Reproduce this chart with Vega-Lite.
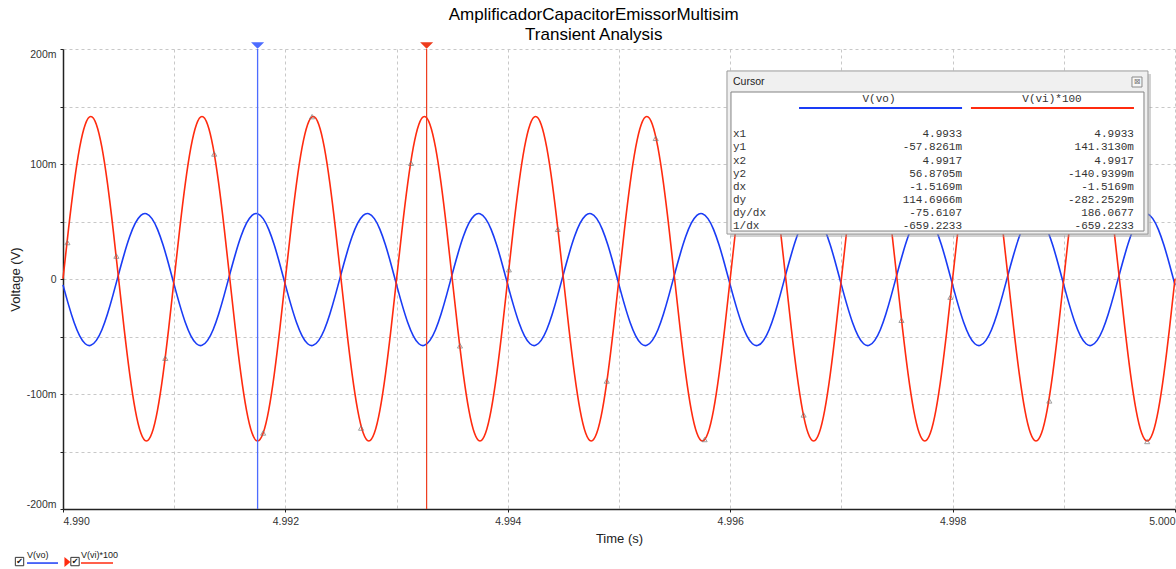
{
"$schema": "https://vega.github.io/schema/vega-lite/v6.json",
"width": 1112, "height": 460,
"autosize": {"type": "none"},
"padding": {"left": 63, "top": 49, "right": 1, "bottom": 60},
"background": "white",
"title": {"text": ["AmplificadorCapacitorEmissorMultisim", "Transient Analysis"], "font": "Liberation Sans", "fontSize": 17, "fontWeight": "normal", "color": "#000", "lineHeight": 20, "anchor": "middle", "frame": "bounds", "offset": -2},
"config": {"view": {"stroke": null},
 "axis": {"labelFont": "Liberation Sans", "titleFont": "Liberation Sans", "labelFontSize": 10.5, "titleFontSize": 13, "titleFontWeight": "normal", "labelColor": "#333", "titleColor": "#222", "domainColor": "#222", "domainWidth": 1.5, "tickColor": "#222", "tickSize": 3, "gridColor": "#c8c8c8", "gridDash": [3, 3], "gridWidth": 1}},
"datasets": {
 "waves": [
{"t":4.99000,"vo":-5.1,"vi":0.2},{"t":4.99005,"vo":-22.5,"vi":43.8},{"t":4.99010,"vo":-37.8,"vi":83.1},{"t":4.99015,"vo":-49.4,"vi":114.4},{"t":4.99020,"vo":-56.3,"vi":134.4},{"t":4.99025,"vo":-57.7,"vi":141.3},{"t":4.99030,"vo":-53.4,"vi":134.4},{"t":4.99035,"vo":-44.1,"vi":114.4},{"t":4.99040,"vo":-30.4,"vi":83.1},{"t":4.99045,"vo":-13.8,"vi":43.8},{"t":4.99050,"vo":4.2,"vi":0.2},{"t":4.99055,"vo":21.6,"vi":-43.4},{"t":4.99060,"vo":36.9,"vi":-82.7},{"t":4.99065,"vo":48.5,"vi":-114.0},{"t":4.99070,"vo":55.4,"vi":-134.0},{"t":4.99075,"vo":56.8,"vi":-140.9},{"t":4.99080,"vo":52.5,"vi":-134.0},{"t":4.99085,"vo":43.2,"vi":-114.0},{"t":4.99090,"vo":29.5,"vi":-82.7},{"t":4.99095,"vo":12.9,"vi":-43.4},
{"t":4.99100,"vo":-5.1,"vi":0.2},{"t":4.99105,"vo":-22.5,"vi":43.8},{"t":4.99110,"vo":-37.8,"vi":83.1},{"t":4.99115,"vo":-49.4,"vi":114.4},{"t":4.99120,"vo":-56.3,"vi":134.4},{"t":4.99125,"vo":-57.7,"vi":141.3},{"t":4.99130,"vo":-53.4,"vi":134.4},{"t":4.99135,"vo":-44.1,"vi":114.4},{"t":4.99140,"vo":-30.4,"vi":83.1},{"t":4.99145,"vo":-13.8,"vi":43.8},{"t":4.99150,"vo":4.2,"vi":0.2},{"t":4.99155,"vo":21.6,"vi":-43.4},{"t":4.99160,"vo":36.9,"vi":-82.7},{"t":4.99165,"vo":48.5,"vi":-114.0},{"t":4.99170,"vo":55.4,"vi":-134.0},{"t":4.99175,"vo":56.8,"vi":-140.9},{"t":4.99180,"vo":52.5,"vi":-134.0},{"t":4.99185,"vo":43.2,"vi":-114.0},{"t":4.99190,"vo":29.5,"vi":-82.7},{"t":4.99195,"vo":12.9,"vi":-43.4},
{"t":4.99200,"vo":-5.1,"vi":0.2},{"t":4.99205,"vo":-22.5,"vi":43.8},{"t":4.99210,"vo":-37.8,"vi":83.1},{"t":4.99215,"vo":-49.4,"vi":114.4},{"t":4.99220,"vo":-56.3,"vi":134.4},{"t":4.99225,"vo":-57.7,"vi":141.3},{"t":4.99230,"vo":-53.4,"vi":134.4},{"t":4.99235,"vo":-44.1,"vi":114.4},{"t":4.99240,"vo":-30.4,"vi":83.1},{"t":4.99245,"vo":-13.8,"vi":43.8},{"t":4.99250,"vo":4.2,"vi":0.2},{"t":4.99255,"vo":21.6,"vi":-43.4},{"t":4.99260,"vo":36.9,"vi":-82.7},{"t":4.99265,"vo":48.5,"vi":-114.0},{"t":4.99270,"vo":55.4,"vi":-134.0},{"t":4.99275,"vo":56.8,"vi":-140.9},{"t":4.99280,"vo":52.5,"vi":-134.0},{"t":4.99285,"vo":43.2,"vi":-114.0},{"t":4.99290,"vo":29.5,"vi":-82.7},{"t":4.99295,"vo":12.9,"vi":-43.4},
{"t":4.99300,"vo":-5.1,"vi":0.2},{"t":4.99305,"vo":-22.5,"vi":43.8},{"t":4.99310,"vo":-37.8,"vi":83.1},{"t":4.99315,"vo":-49.4,"vi":114.4},{"t":4.99320,"vo":-56.3,"vi":134.4},{"t":4.99325,"vo":-57.7,"vi":141.3},{"t":4.99330,"vo":-53.4,"vi":134.4},{"t":4.99335,"vo":-44.1,"vi":114.4},{"t":4.99340,"vo":-30.4,"vi":83.1},{"t":4.99345,"vo":-13.8,"vi":43.8},{"t":4.99350,"vo":4.2,"vi":0.2},{"t":4.99355,"vo":21.6,"vi":-43.4},{"t":4.99360,"vo":36.9,"vi":-82.7},{"t":4.99365,"vo":48.5,"vi":-114.0},{"t":4.99370,"vo":55.4,"vi":-134.0},{"t":4.99375,"vo":56.8,"vi":-140.9},{"t":4.99380,"vo":52.5,"vi":-134.0},{"t":4.99385,"vo":43.2,"vi":-114.0},{"t":4.99390,"vo":29.5,"vi":-82.7},{"t":4.99395,"vo":12.9,"vi":-43.4},
{"t":4.99400,"vo":-5.1,"vi":0.2},{"t":4.99405,"vo":-22.5,"vi":43.8},{"t":4.99410,"vo":-37.8,"vi":83.1},{"t":4.99415,"vo":-49.4,"vi":114.4},{"t":4.99420,"vo":-56.3,"vi":134.4},{"t":4.99425,"vo":-57.7,"vi":141.3},{"t":4.99430,"vo":-53.4,"vi":134.4},{"t":4.99435,"vo":-44.1,"vi":114.4},{"t":4.99440,"vo":-30.4,"vi":83.1},{"t":4.99445,"vo":-13.8,"vi":43.8},{"t":4.99450,"vo":4.2,"vi":0.2},{"t":4.99455,"vo":21.6,"vi":-43.4},{"t":4.99460,"vo":36.9,"vi":-82.7},{"t":4.99465,"vo":48.5,"vi":-114.0},{"t":4.99470,"vo":55.4,"vi":-134.0},{"t":4.99475,"vo":56.8,"vi":-140.9},{"t":4.99480,"vo":52.5,"vi":-134.0},{"t":4.99485,"vo":43.2,"vi":-114.0},{"t":4.99490,"vo":29.5,"vi":-82.7},{"t":4.99495,"vo":12.9,"vi":-43.4},
{"t":4.99500,"vo":-5.1,"vi":0.2},{"t":4.99505,"vo":-22.5,"vi":43.8},{"t":4.99510,"vo":-37.8,"vi":83.1},{"t":4.99515,"vo":-49.4,"vi":114.4},{"t":4.99520,"vo":-56.3,"vi":134.4},{"t":4.99525,"vo":-57.7,"vi":141.3},{"t":4.99530,"vo":-53.4,"vi":134.4},{"t":4.99535,"vo":-44.1,"vi":114.4},{"t":4.99540,"vo":-30.4,"vi":83.1},{"t":4.99545,"vo":-13.8,"vi":43.8},{"t":4.99550,"vo":4.2,"vi":0.2},{"t":4.99555,"vo":21.6,"vi":-43.4},{"t":4.99560,"vo":36.9,"vi":-82.7},{"t":4.99565,"vo":48.5,"vi":-114.0},{"t":4.99570,"vo":55.4,"vi":-134.0},{"t":4.99575,"vo":56.8,"vi":-140.9},{"t":4.99580,"vo":52.5,"vi":-134.0},{"t":4.99585,"vo":43.2,"vi":-114.0},{"t":4.99590,"vo":29.5,"vi":-82.7},{"t":4.99595,"vo":12.9,"vi":-43.4},
{"t":4.99600,"vo":-5.1,"vi":0.2},{"t":4.99605,"vo":-22.5,"vi":43.8},{"t":4.99610,"vo":-37.8,"vi":83.1},{"t":4.99615,"vo":-49.4,"vi":114.4},{"t":4.99620,"vo":-56.3,"vi":134.4},{"t":4.99625,"vo":-57.7,"vi":141.3},{"t":4.99630,"vo":-53.4,"vi":134.4},{"t":4.99635,"vo":-44.1,"vi":114.4},{"t":4.99640,"vo":-30.4,"vi":83.1},{"t":4.99645,"vo":-13.8,"vi":43.8},{"t":4.99650,"vo":4.2,"vi":0.2},{"t":4.99655,"vo":21.6,"vi":-43.4},{"t":4.99660,"vo":36.9,"vi":-82.7},{"t":4.99665,"vo":48.5,"vi":-114.0},{"t":4.99670,"vo":55.4,"vi":-134.0},{"t":4.99675,"vo":56.8,"vi":-140.9},{"t":4.99680,"vo":52.5,"vi":-134.0},{"t":4.99685,"vo":43.2,"vi":-114.0},{"t":4.99690,"vo":29.5,"vi":-82.7},{"t":4.99695,"vo":12.9,"vi":-43.4},
{"t":4.99700,"vo":-5.1,"vi":0.2},{"t":4.99705,"vo":-22.5,"vi":43.8},{"t":4.99710,"vo":-37.8,"vi":83.1},{"t":4.99715,"vo":-49.4,"vi":114.4},{"t":4.99720,"vo":-56.3,"vi":134.4},{"t":4.99725,"vo":-57.7,"vi":141.3},{"t":4.99730,"vo":-53.4,"vi":134.4},{"t":4.99735,"vo":-44.1,"vi":114.4},{"t":4.99740,"vo":-30.4,"vi":83.1},{"t":4.99745,"vo":-13.8,"vi":43.8},{"t":4.99750,"vo":4.2,"vi":0.2},{"t":4.99755,"vo":21.6,"vi":-43.4},{"t":4.99760,"vo":36.9,"vi":-82.7},{"t":4.99765,"vo":48.5,"vi":-114.0},{"t":4.99770,"vo":55.4,"vi":-134.0},{"t":4.99775,"vo":56.8,"vi":-140.9},{"t":4.99780,"vo":52.5,"vi":-134.0},{"t":4.99785,"vo":43.2,"vi":-114.0},{"t":4.99790,"vo":29.5,"vi":-82.7},{"t":4.99795,"vo":12.9,"vi":-43.4},
{"t":4.99800,"vo":-5.1,"vi":0.2},{"t":4.99805,"vo":-22.5,"vi":43.8},{"t":4.99810,"vo":-37.8,"vi":83.1},{"t":4.99815,"vo":-49.4,"vi":114.4},{"t":4.99820,"vo":-56.3,"vi":134.4},{"t":4.99825,"vo":-57.7,"vi":141.3},{"t":4.99830,"vo":-53.4,"vi":134.4},{"t":4.99835,"vo":-44.1,"vi":114.4},{"t":4.99840,"vo":-30.4,"vi":83.1},{"t":4.99845,"vo":-13.8,"vi":43.8},{"t":4.99850,"vo":4.2,"vi":0.2},{"t":4.99855,"vo":21.6,"vi":-43.4},{"t":4.99860,"vo":36.9,"vi":-82.7},{"t":4.99865,"vo":48.5,"vi":-114.0},{"t":4.99870,"vo":55.4,"vi":-134.0},{"t":4.99875,"vo":56.8,"vi":-140.9},{"t":4.99880,"vo":52.5,"vi":-134.0},{"t":4.99885,"vo":43.2,"vi":-114.0},{"t":4.99890,"vo":29.5,"vi":-82.7},{"t":4.99895,"vo":12.9,"vi":-43.4},
{"t":4.99900,"vo":-5.1,"vi":0.2},{"t":4.99905,"vo":-22.5,"vi":43.8},{"t":4.99910,"vo":-37.8,"vi":83.1},{"t":4.99915,"vo":-49.4,"vi":114.4},{"t":4.99920,"vo":-56.3,"vi":134.4},{"t":4.99925,"vo":-57.7,"vi":141.3},{"t":4.99930,"vo":-53.4,"vi":134.4},{"t":4.99935,"vo":-44.1,"vi":114.4},{"t":4.99940,"vo":-30.4,"vi":83.1},{"t":4.99945,"vo":-13.8,"vi":43.8},{"t":4.99950,"vo":4.2,"vi":0.2},{"t":4.99955,"vo":21.6,"vi":-43.4},{"t":4.99960,"vo":36.9,"vi":-82.7},{"t":4.99965,"vo":48.5,"vi":-114.0},{"t":4.99970,"vo":55.4,"vi":-134.0},{"t":4.99975,"vo":56.8,"vi":-140.9},{"t":4.99980,"vo":52.5,"vi":-134.0},{"t":4.99985,"vo":43.2,"vi":-114.0},{"t":4.99990,"vo":29.5,"vi":-82.7},{"t":4.99995,"vo":12.9,"vi":-43.4},
{"t":5.00000,"vo":-5.1,"vi":0.2}
 ],
 "markers": [
{"t":4.99004,"v":31.7},{"t":4.99048,"v":19.9},{"t":4.99092,"v":-68.9},{"t":4.99136,"v":108.7},{"t":4.99180,"v":-133.9},{"t":4.99224,"v":141.2},{"t":4.99268,"v":-129.6},{"t":4.99313,"v":100.6},{"t":4.99357,"v":-58.1},{"t":4.99401,"v":8.1},{"t":4.99445,"v":43.2},{"t":4.99489,"v":-88.7},{"t":4.99533,"v":122.3},{"t":4.99577,"v":-139.6},{"t":4.99622,"v":138.2},{"t":4.99666,"v":-118.2},{"t":4.99710,"v":82.5},{"t":4.99754,"v":-35.9},{"t":4.99798,"v":-15.8},{"t":4.99842,"v":65.2},{"t":4.99887,"v":-106.0},{"t":4.99931,"v":132.4},{"t":4.99975,"v":-141.3}
 ],
 "cursor1": [{"t": 4.99327}],
 "cursor2": [{"t": 4.99175}],
 "one": [{"a": 1}]
},
"layer": [
 {"data": {"name": "waves"},
  "mark": {"type": "line", "color": "#1a3cf5", "strokeWidth": 1.6, "interpolate": "natural"},
  "encoding": {
   "x": {"field": "t", "type": "quantitative", "scale": {"domain": [4.99, 5.0], "nice": false, "zero": false},
    "axis": {"title": "Time (s)", "values": [4.990, 4.991, 4.992, 4.993, 4.994, 4.995, 4.996, 4.997, 4.998, 4.999, 5.000],
     "labelExpr": "round(datum.value*1000) % 2 === 0 ? format(datum.value, '.3f') : ''", "labelFlush": true, "labelPadding": 4, "titlePadding": 6,
     "tickOpacity": {"condition": {"test": "round(datum.value*1000) % 2 === 0", "value": 1}, "value": 0}}},
   "y": {"field": "vo", "type": "quantitative", "scale": {"domain": [-200, 200], "nice": false},
    "axis": {"title": "Voltage (V)", "values": [-200, -150, -100, -50, 0, 50, 100, 150, 200],
     "labelExpr": "datum.value % 100 === 0 ? (datum.value === 0 ? '0' : datum.value + 'm') : ''", "labelFlush": true, "labelPadding": 4, "titlePadding": 4}}}},
 {"data": {"name": "waves"},
  "mark": {"type": "line", "color": "#ff2b0f", "strokeWidth": 1.6, "interpolate": "natural"},
  "encoding": {"x": {"field": "t", "type": "quantitative"}, "y": {"field": "vi", "type": "quantitative"}}},
 {"data": {"name": "markers"},
  "mark": {"type": "point", "shape": "triangle-up", "size": 26, "filled": false, "stroke": "#777777", "strokeWidth": 1},
  "encoding": {"x": {"field": "t", "type": "quantitative"}, "y": {"field": "v", "type": "quantitative"}}},
 {"data": {"name": "cursor2"},
  "mark": {"type": "rule", "strokeWidth": 1.3, "color": "#4d6cff"},
  "encoding": {"x": {"field": "t", "type": "quantitative"}}},
 {"data": {"name": "cursor1"},
  "mark": {"type": "rule", "strokeWidth": 1.2, "color": "#ee3b1c"},
  "encoding": {"x": {"field": "t", "type": "quantitative"}}},
 {"data": {"name": "cursor2"},
  "mark": {"type": "point", "shape": "M-1,-0.5L1,-0.5L0,0.5Z", "size": 170, "filled": true, "color": "#4d6cff", "opacity": 1},
  "encoding": {"x": {"field": "t", "type": "quantitative"}, "y": {"datum": 203}}},
 {"data": {"name": "cursor1"},
  "mark": {"type": "point", "shape": "M-1,-0.5L1,-0.5L0,0.5Z", "size": 170, "filled": true, "color": "#ee3b1c", "opacity": 1},
  "encoding": {"x": {"field": "t", "type": "quantitative"}, "y": {"datum": 203}}},
 {"data": {"name": "one"},
  "mark": {"type": "rect", "color": "#9a9a9a", "opacity": 0.45},
  "encoding": {"x": {"datum": 4.99600}, "x2": {"datum": 4.999784}, "y": {"datum": 178.3}, "y2": {"datum": 36.5}}},
 {"data": {"name": "one"},
  "mark": {"type": "rect", "fill": "#f0f0f0", "stroke": "#9a9a9a", "strokeWidth": 1},
  "encoding": {"x": {"datum": 4.995971}, "x2": {"datum": 4.999757}, "y": {"datum": 180.9}, "y2": {"datum": 39.1}}},
 {"data": {"name": "one"},
  "mark": {"type": "rect", "fill": "#ffffff", "stroke": "#828282", "strokeWidth": 1},
  "encoding": {"x": {"datum": 4.996007}, "x2": {"datum": 4.999721}, "y": {"datum": 162.6}, "y2": {"datum": 41.7}}},
 {"data": {"name": "one"},
  "mark": {"type": "text", "font": "Liberation Sans", "fontSize": 10.5, "color": "#222", "align": "left", "baseline": "middle"},
  "encoding": {"x": {"datum": 4.996025}, "y": {"datum": 171.3}, "text": {"value": "Cursor"}}},
 {"data": {"name": "one"},
  "mark": {"type": "point", "shape": "square", "size": 100, "filled": true, "fill": "#f7f7f7", "stroke": "#8a8a8a", "strokeWidth": 1, "opacity": 1},
  "encoding": {"x": {"datum": 4.999658}, "y": {"datum": 171.3}}},
 {"data": {"name": "one"},
  "mark": {"type": "text", "font": "DejaVu Sans", "fontSize": 8, "color": "#777", "align": "center", "baseline": "middle"},
  "encoding": {"x": {"datum": 4.999658}, "y": {"datum": 171.3}, "text": {"value": "⊠"}}},
 {"data": {"name": "one"},
  "mark": {"type": "text", "font": "Liberation Mono", "fontSize": 11, "color": "#333", "align": "center", "baseline": "middle"},
  "encoding": {"x": {"datum": 4.997338}, "y": {"datum": 156.5}, "text": {"value": "V(vo)"}}},
 {"data": {"name": "one"},
  "mark": {"type": "text", "font": "Liberation Mono", "fontSize": 11, "color": "#333", "align": "center", "baseline": "middle"},
  "encoding": {"x": {"datum": 4.998894}, "y": {"datum": 156.5}, "text": {"value": "V(vi)*100"}}},
 {"data": {"name": "one"},
  "mark": {"type": "rule", "color": "#1a3cf5", "strokeWidth": 2},
  "encoding": {"x": {"datum": 4.996619}, "x2": {"datum": 4.998085}, "y": {"datum": 148.7}}},
 {"data": {"name": "one"},
  "mark": {"type": "rule", "color": "#ff2b0f", "strokeWidth": 2},
  "encoding": {"x": {"datum": 4.998165}, "x2": {"datum": 4.999631}, "y": {"datum": 148.7}}},
 {"data": {"name": "one"},
  "mark": {"type": "text", "font": "Liberation Mono", "fontSize": 11, "color": "#333", "align": "left", "baseline": "top", "lineHeight": 13.1},
  "encoding": {"x": {"datum": 4.996025}, "y": {"datum": 131.0},
   "text": {"value": ["x1", "y1", "x2", "y2", "dx", "dy", "dy/dx", "1/dx"]}}},
 {"data": {"name": "one"},
  "mark": {"type": "text", "font": "Liberation Mono", "fontSize": 11, "color": "#333", "align": "right", "baseline": "top", "lineHeight": 13.1},
  "encoding": {"x": {"datum": 4.998085}, "y": {"datum": 131.0},
   "text": {"value": ["4.9933", "-57.8261m", "4.9917", "56.8705m", "-1.5169m", "114.6966m", "-75.6107", "-659.2233"]}}},
 {"data": {"name": "one"},
  "mark": {"type": "text", "font": "Liberation Mono", "fontSize": 11, "color": "#333", "align": "right", "baseline": "top", "lineHeight": 13.1},
  "encoding": {"x": {"datum": 4.999631}, "y": {"datum": 131.0},
   "text": {"value": ["4.9933", "141.3130m", "4.9917", "-140.9399m", "-1.5169m", "-282.2529m", "186.0677", "-659.2233"]}}},
 {"data": {"name": "one"},
  "mark": {"type": "point", "shape": "square", "size": 70, "filled": false, "stroke": "#333", "strokeWidth": 1, "opacity": 1},
  "encoding": {"x": {"datum": 4.989609}, "y": {"datum": -245.7}}},
 {"data": {"name": "one"},
  "mark": {"type": "text", "font": "DejaVu Sans", "fontSize": 8, "color": "#111", "align": "center", "baseline": "middle"},
  "encoding": {"x": {"datum": 4.989609}, "y": {"datum": -245.7}, "text": {"value": "✔"}}},
 {"data": {"name": "one"},
  "mark": {"type": "text", "font": "Liberation Sans", "fontSize": 9, "color": "#222", "align": "left", "baseline": "middle"},
  "encoding": {"x": {"datum": 4.989676}, "y": {"datum": -240.0}, "text": {"value": "V(vo)"}}},
 {"data": {"name": "one"},
  "mark": {"type": "rule", "color": "#1a3cf5", "strokeWidth": 1.5},
  "encoding": {"x": {"datum": 4.989676}, "x2": {"datum": 4.989955}, "y": {"datum": -247.0}}},
 {"data": {"name": "one"},
  "mark": {"type": "point", "shape": "M-0.6,-1L0.6,0L-0.6,1Z", "size": 100, "filled": true, "color": "#ff2b0f", "opacity": 1},
  "encoding": {"x": {"datum": 4.990040}, "y": {"datum": -246.1}}},
 {"data": {"name": "one"},
  "mark": {"type": "point", "shape": "square", "size": 70, "filled": false, "stroke": "#333", "strokeWidth": 1, "opacity": 1},
  "encoding": {"x": {"datum": 4.990108}, "y": {"datum": -245.7}}},
 {"data": {"name": "one"},
  "mark": {"type": "text", "font": "DejaVu Sans", "fontSize": 8, "color": "#111", "align": "center", "baseline": "middle"},
  "encoding": {"x": {"datum": 4.990108}, "y": {"datum": -245.7}, "text": {"value": "✔"}}},
 {"data": {"name": "one"},
  "mark": {"type": "text", "font": "Liberation Sans", "fontSize": 9, "color": "#222", "align": "left", "baseline": "middle"},
  "encoding": {"x": {"datum": 4.990162}, "y": {"datum": -240.0}, "text": {"value": "V(vi)*100"}}},
 {"data": {"name": "one"},
  "mark": {"type": "rule", "color": "#ff2b0f", "strokeWidth": 1.5},
  "encoding": {"x": {"datum": 4.990162}, "x2": {"datum": 4.990450}, "y": {"datum": -247.0}}}
]
}
